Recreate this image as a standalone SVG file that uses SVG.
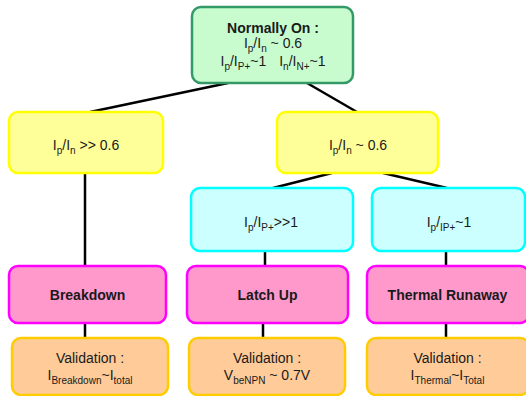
<svg xmlns="http://www.w3.org/2000/svg" width="526" height="396" viewBox="0 0 526 396">
<style>
text{font-family:"Liberation Sans",Arial,sans-serif;font-size:14px;fill:#1a1a1a;text-anchor:middle}
.b{font-weight:bold}
.s{font-size:10px}
rect{stroke-width:2.5}
.g{fill:#c8fcce;stroke:#339966}
.y{fill:#ffff99;stroke:#ffff00}
.c{fill:#ccffff;stroke:#00ffff}
.p{fill:#ff99cc;stroke:#ff00ff}
.o{fill:#ffcc99;stroke:#ffcc00}
#connectors line{stroke:#000;stroke-width:2.5}
</style>
<g id="connectors">
<line x1="228" y1="83" x2="90" y2="112"/>
<line x1="307" y1="83" x2="357" y2="112"/>
<line x1="332" y1="173" x2="273" y2="188"/>
<line x1="383" y1="173" x2="447" y2="188"/>
<line x1="85" y1="173" x2="85" y2="266"/>
<line x1="265" y1="251" x2="265" y2="266"/>
<line x1="446" y1="251" x2="446" y2="266"/>
<line x1="85" y1="323" x2="85" y2="338"/>
<line x1="263" y1="323" x2="263" y2="338"/>
<line x1="446" y1="323" x2="446" y2="338"/>
</g>
<g id="normally-on">
<rect class="g" x="192" y="7" width="161" height="76" rx="9"/>
<text class="b" x="273" y="33">Normally On :</text>
<text x="273" y="48">I<tspan class="s" dy="3.5">p</tspan><tspan dy="-3.5">/I</tspan><tspan class="s" dy="3.5">n</tspan><tspan dy="-3.5"> ~ 0.6</tspan></text>
<text x="273" y="66">I<tspan class="s" dy="3.5">p</tspan><tspan dy="-3.5">/I</tspan><tspan class="s" dy="3.5">P+</tspan><tspan dy="-3.5">~1</tspan><tspan dx="13">I</tspan><tspan class="s" dy="3.5">n</tspan><tspan dy="-3.5">/I</tspan><tspan class="s" dy="3.5">N+</tspan><tspan dy="-3.5">~1</tspan></text>
</g>
<g id="ratio-high">
<rect class="y" x="9" y="112" width="154" height="61" rx="9"/>
<text x="86" y="150">I<tspan class="s" dy="4">p</tspan><tspan dy="-4">/I</tspan><tspan class="s" dy="4">n</tspan><tspan dy="-4"> &gt;&gt; 0.6</tspan></text>
</g>
<g id="ratio-normal">
<rect class="y" x="277" y="112" width="161" height="61" rx="9"/>
<text x="358" y="150">I<tspan class="s" dy="4">p</tspan><tspan dy="-4">/I</tspan><tspan class="s" dy="4">n</tspan><tspan dy="-4"> ~ 0.6</tspan></text>
</g>
<g id="ip-high">
<rect class="c" x="191" y="188" width="162" height="63" rx="9"/>
<text x="271" y="227">I<tspan class="s" dy="4">p</tspan><tspan dy="-4">/I</tspan><tspan class="s" dy="4">P+</tspan><tspan dy="-4">&gt;&gt;1</tspan></text>
</g>
<g id="ip-normal">
<rect class="c" x="372" y="188" width="153" height="63" rx="9"/>
<text x="449" y="227">I<tspan class="s" dy="4">p</tspan><tspan dy="-4">/</tspan><tspan class="s" dy="4">IP+</tspan><tspan dy="-4">~1</tspan></text>
</g>
<g id="breakdown">
<rect class="p" x="9" y="266" width="157" height="57" rx="9"/>
<text class="b" x="87.5" y="300">Breakdown</text>
</g>
<g id="latch-up">
<rect class="p" x="187" y="266" width="161" height="57" rx="9"/>
<text class="b" x="267.5" y="300">Latch Up</text>
</g>
<g id="thermal-runaway">
<rect class="p" x="367" y="266" width="162" height="57" rx="9"/>
<text class="b" x="447.5" y="300">Thermal Runaway</text>
</g>
<g id="val-breakdown">
<rect class="o" x="12" y="338" width="156" height="57" rx="9"/>
<text x="90" y="363">Validation :</text>
<text x="90" y="380">I<tspan class="s" dy="4">Breakdown</tspan><tspan dy="-4">~I</tspan><tspan class="s" dy="4">total</tspan></text>
</g>
<g id="val-latch">
<rect class="o" x="189" y="338" width="156" height="57" rx="9"/>
<text x="267" y="363">Validation :</text>
<text x="267" y="380">V<tspan class="s" dy="4">beNPN</tspan><tspan dy="-4"> ~ 0.7V</tspan></text>
</g>
<g id="val-thermal">
<rect class="o" x="367" y="338" width="162" height="57" rx="9"/>
<text x="447.5" y="363">Validation :</text>
<text x="447.5" y="380">I<tspan class="s" dy="4">Thermal</tspan><tspan dy="-4">~I</tspan><tspan class="s" dy="4">Total</tspan></text>
</g>
</svg>
